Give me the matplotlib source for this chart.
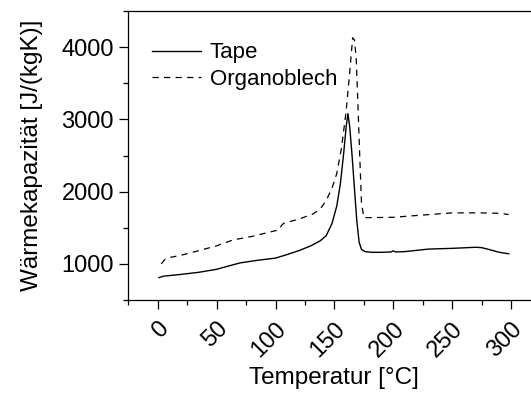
import matplotlib
matplotlib.use("Agg")
import matplotlib.pyplot as plt
from matplotlib.ticker import MultipleLocator

plt.rcParams['font.family'] = ['Liberation Sans', 'DejaVu Sans']
plt.rcParams['lines.scale_dashes'] = False

# Specific heat capacity measurements
tape_temp = [1, 5, 20, 35, 50, 60, 70, 85, 100, 110, 120, 130, 138, 143, 148, 152,
             155, 158, 160, 161.5, 163, 165, 167, 169, 171, 173, 176, 182, 190, 198,
             200, 202, 210, 230, 250, 270, 275, 280, 290, 298]
tape_cp = [810, 830, 855, 884, 925, 970, 1014, 1050, 1080, 1130, 1184, 1250, 1320,
           1390, 1560, 1800, 2100, 2550, 2900, 3080, 2900, 2500, 2050, 1600, 1300,
           1200, 1170, 1160, 1160, 1165, 1180, 1165, 1170, 1205, 1215, 1230, 1225,
           1205, 1160, 1140]

organo_temp = [3, 6, 9, 20, 35, 50, 64, 80, 95, 103, 105, 107, 120, 132, 138, 143,
               148, 152, 156, 160, 163, 165.5, 167, 168.5, 170, 171.5, 173, 175, 180,
               200, 220, 250, 275, 290, 298]
organo_cp = [1000, 1060, 1085, 1120, 1184, 1250, 1332, 1380, 1440, 1471, 1530, 1562,
             1620, 1692, 1760, 1877, 2050, 2250, 2600, 3120, 3650, 4130, 4100, 3850,
             3200, 2500, 1850, 1640, 1640, 1645, 1670, 1706, 1706, 1700, 1683]

x_ticks = [0, 50, 100, 150, 200, 250, 300]
y_ticks = [1000, 2000, 3000, 4000]

fig = plt.figure(figsize=(5.31, 3.96), dpi=100)
ax = fig.add_axes([0.2416, 0.2424, 0.7763, 0.7298])

ax.plot(tape_temp, tape_cp, color='black', lw=1.0, label='Tape')
ax.plot(organo_temp, organo_cp, color='black', lw=0.9, dashes=(4.5, 3.8),
        label='Organoblech')

ax.set_xlim(-25, 325)
ax.set_ylim(500, 4500)
ax.set_xticks(x_ticks)
ax.set_yticks(y_ticks)
ax.xaxis.set_minor_locator(MultipleLocator(25))
ax.yaxis.set_minor_locator(MultipleLocator(500))
ax.tick_params(which='major', direction='out', length=6.8, width=0.9, labelsize=17)
ax.tick_params(which='minor', direction='out', length=3.3, width=0.9)
ax.tick_params(axis='x', pad=6)
for lbl in ax.get_xticklabels():
    lbl.set_rotation(45)
    lbl.set_ha('right')
    lbl.set_va('top')
    lbl.set_rotation_mode('anchor')

for s in ax.spines.values():
    s.set_linewidth(0.9)

ax.set_xlabel('Temperatur [°C]', fontsize=17.5, labelpad=4)
ax.set_ylabel('Wärmekapazität [J/(kgK)]', fontsize=17.5, labelpad=13)

ax.legend(loc='upper left', frameon=False, fontsize=16, handlelength=2.2,
          handletextpad=0.4, labelspacing=0.25, borderaxespad=0.3,
          bbox_to_anchor=(0.02, 0.945))

fig.savefig('out.png', dpi=100)
